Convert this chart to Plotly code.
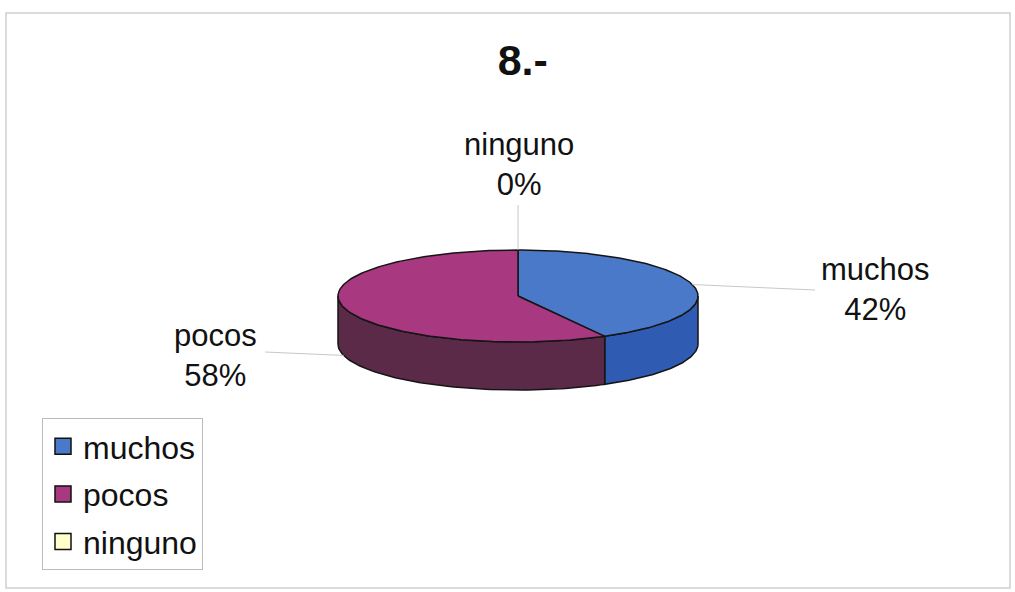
import numpy as np
import plotly.graph_objects as go

categories = ["muchos", "pocos", "ninguno"]
values = [42, 58, 0]
top_colors = ["#4B79C9", "#A8387F", "#FFFFCC"]
side_colors = ["#2F5BB3", "#5B2A48", "#E6E6A0"]
title_text = "8.-"

# geometry (pixel space)
CX, CY, RX, RY, DEPTH = 518, 296, 180, 46, 48
FONT = "Liberation Sans, Arial, sans-serif"


def ell(t_deg, dy=0.0):
    t = np.radians(t_deg)
    return CX + RX * np.sin(t), CY - RY * np.cos(t) + dy


fig = go.Figure()
total = sum(values)
angles = np.cumsum([0] + [v / total * 360 for v in values])

# side faces (front half only)
for i, cat in enumerate(categories):
    a0, a1 = angles[i], angles[i + 1]
    s, e = max(a0, 90), min(a1, 270)
    if e <= s:
        continue
    ts = np.linspace(s, e, 80)
    xt, yt = ell(ts)
    xb, yb = ell(ts[::-1], DEPTH)
    fig.add_trace(go.Scatter(
        x=np.concatenate([xt, xb, xt[:1]]), y=np.concatenate([yt, yb, yt[:1]]),
        fill="toself", fillcolor=side_colors[i], mode="lines",
        line=dict(color="#151515", width=1.5), showlegend=False, hoverinfo="skip"))

# top faces
for i, cat in enumerate(categories):
    a0, a1 = angles[i], angles[i + 1]
    if a1 - a0 <= 0:
        continue
    ts = np.linspace(a0, a1, 160)
    xt, yt = ell(ts)
    fig.add_trace(go.Scatter(
        x=np.concatenate([[CX], xt, [CX]]), y=np.concatenate([[CY], yt, [CY]]),
        fill="toself", fillcolor=top_colors[i], mode="lines",
        line=dict(color="#151515", width=1.5), showlegend=False,
        name=cat, hoverinfo="name"))

# labels with leader lines
label_specs = {
    "muchos": dict(end=(815, 290), text_xy=(875, 289), off=0),
    "pocos": dict(end=(265, 352), text_xy=(215, 355), off=DEPTH),
    "ninguno": dict(end=(518, 205), text_xy=(519, 164), off=0),
}
for i, cat in enumerate(categories):
    mid = (angles[i] + angles[i + 1]) / 2
    spec = label_specs[cat]
    px, py = ell(mid, spec["off"])
    fig.add_trace(go.Scatter(x=[px, spec["end"][0]], y=[py, spec["end"][1]], mode="lines",
                             line=dict(color="#c8c8c8", width=1), showlegend=False, hoverinfo="skip"))
    fig.add_annotation(x=spec["text_xy"][0], y=spec["text_xy"][1], xref="x", yref="y",
                       text=f"{cat}<br>{values[i]}%", showarrow=False,
                       font=dict(family=FONT, size=31, color="#111"), align="center")

# legend entries
for i, cat in enumerate(categories):
    fig.add_trace(go.Scatter(x=[None], y=[None], mode="markers", name=cat, legendgroup=cat,
                             marker=dict(symbol="square", size=16, color=top_colors[i],
                                         line=dict(color="#111", width=1.5))))

fig.update_layout(
    width=1015, height=592, margin=dict(l=0, r=0, t=0, b=0),
    paper_bgcolor="white", plot_bgcolor="white",
    xaxis=dict(range=[0, 1015], visible=False, fixedrange=True),
    yaxis=dict(range=[592, 0], visible=False, fixedrange=True),
    title=dict(text=f"<b>{title_text}</b>", x=0.515, xanchor="center", y=1 - 60 / 592, yanchor="middle",
               font=dict(family=FONT, size=43, color="#111")),
    legend=dict(x=42 / 1015, y=1 - 418 / 592, xanchor="left", yanchor="top",
                bgcolor="white", bordercolor="#bbbbbb", borderwidth=1,
                font=dict(family=FONT, size=32, color="#111"),
                tracegroupgap=3, traceorder="grouped"),
    shapes=[dict(type="rect", xref="paper", yref="paper", x0=6 / 1015, x1=1010 / 1015,
                 y0=1 - 588 / 592, y1=1 - 13 / 592, line=dict(color="#d0d0d0", width=1.5))],
)

fig.write_html("out.html")
